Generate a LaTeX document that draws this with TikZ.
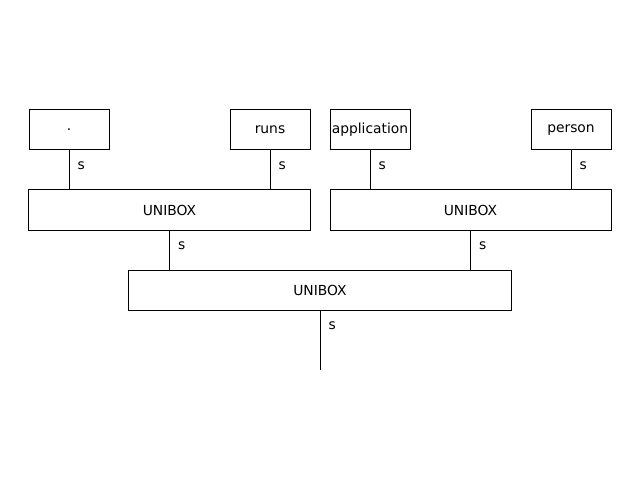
\documentclass[tikz,border=0pt]{standalone}
\usepackage{fontspec}
\setmainfont{DejaVu Sans}
\begin{document}
\begin{tikzpicture}[x=1bp,y=-1bp,
  box/.style={draw=black,line width=1bp,fill=white,inner sep=0pt,minimum height=40bp,font=\fontsize{13.9}{16}\selectfont},
  conn/.style={line width=1bp,draw=black},
  lab/.style={anchor=west,inner sep=0pt,font=\fontsize{13.9}{16}\selectfont}]
\useasboundingbox (0,0) rectangle (640,480);
\node[box,minimum width=80bp] (a) at (69,130) {.};
\node[box,minimum width=80bp] (b) at (270,130) {runs};
\node[box,minimum width=80bp] (c) at (370,130) {application};
\node[box,minimum width=80bp] (d) at (571,130) {person};
\node[box,minimum width=281bp] (m1) at (169.5,210) {UNIBOX};
\node[box,minimum width=281bp] (m2) at (470.5,210) {UNIBOX};
\node[box,minimum width=382bp] (r) at (320,290) {UNIBOX};
\coordinate (end) at (320,370);
\draw[conn] (a.south) -- (a.south |- m1.north) node[lab,pos=0.4,xshift=8bp] {s};
\draw[conn] (b.south) -- (b.south |- m1.north) node[lab,pos=0.4,xshift=8bp] {s};
\draw[conn] (c.south) -- (c.south |- m2.north) node[lab,pos=0.4,xshift=8bp] {s};
\draw[conn] (d.south) -- (d.south |- m2.north) node[lab,pos=0.4,xshift=8bp] {s};
\draw[conn] (m1.south) -- (m1.south |- r.north) node[lab,pos=0.4,xshift=8bp] {s};
\draw[conn] (m2.south) -- (m2.south |- r.north) node[lab,pos=0.4,xshift=8bp] {s};
\draw[conn] (r.south) -- (end) node[lab,pos=0.25,xshift=8bp] {s};
\end{tikzpicture}
\end{document}
